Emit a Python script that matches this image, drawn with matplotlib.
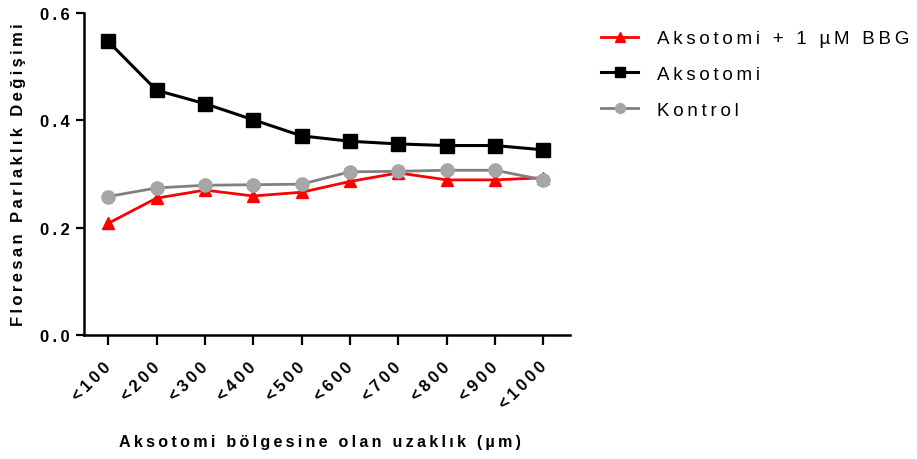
import matplotlib
matplotlib.use("Agg")
import matplotlib.pyplot as plt
import matplotlib.transforms as mtransforms
import numpy as np

plt.rcParams['font.family'] = ['Liberation Sans', 'DejaVu Sans']

# distance bins from the axotomy site
bins = ['<100', '<200', '<300', '<400', '<500', '<600', '<700', '<800', '<900', '<1000']

# mean fluorescence brightness change per bin
aks_bbg = [0.208, 0.255, 0.270, 0.259, 0.266, 0.286, 0.302, 0.289, 0.289, 0.293]
aks = [0.547, 0.456, 0.431, 0.401, 0.371, 0.361, 0.356, 0.353, 0.353, 0.345]
kontrol = [0.258, 0.274, 0.279, 0.280, 0.281, 0.304, 0.305, 0.307, 0.307, 0.289]

y_ticks = [0.0, 0.2, 0.4, 0.6]


def spaced(s):
    # poor man's letter spacing
    return '\u2009'.join(s)


x = np.arange(len(bins))

fig = plt.figure(figsize=(9.17, 4.6), dpi=100)
ax = fig.add_axes([0.0916, 0.2696, 0.530, 0.700])

ax.plot(x, aks_bbg, color='#FF0000', lw=2.0, marker='^', ms=9,
        mec='#FF0000', mfc='#FF0000', label=spaced('Aksotomi + 1 µM BBG'), clip_on=False)
ax.plot(x, aks, color='black', lw=2.2, marker='s', ms=10,
        label=spaced('Aksotomi'), clip_on=False)
ax.plot(x, kontrol, color='#808080', lw=2.0, marker='o', ms=9.5,
        mfc='#A6A6A8', mec='#A6A6A8', label=spaced('Kontrol'), clip_on=False)

ax.set_xlim(-0.5, 9.55)
ax.set_ylim(0, 0.6)

for side in ['top', 'right']:
    ax.spines[side].set_visible(False)
for side in ['left', 'bottom']:
    ax.spines[side].set_linewidth(1.8)

ax.set_yticks(y_ticks)
ax.set_yticklabels([spaced('%.1f' % v) for v in y_ticks], fontsize=12, fontweight='bold')
ax.set_xticks(x)
ax.set_xticklabels([spaced(b) for b in bins], rotation=45, ha='right', rotation_mode='anchor',
                   fontsize=12, fontweight='bold')
ax.tick_params(axis='y', length=6, width=1.6, pad=4)
ax.tick_params(axis='x', length=7, width=1.6, pad=10)

# nudge the slanted labels a bit to the left
shift = mtransforms.ScaledTranslation(-5 / 100, 0, fig.dpi_scale_trans)
for lbl in ax.get_xticklabels():
    lbl.set_transform(lbl.get_transform() + shift)

ax.set_ylabel(spaced('Floresan Parlaklık Değişimi'), fontsize=12, fontweight='bold', labelpad=10)
fig.text(0.349, 0.037, spaced('Aksotomi bölgesine olan uzaklık (µm)'),
         ha='center', va='center', fontsize=11.6, fontweight='bold')

leg = ax.legend(loc='upper left', bbox_to_anchor=(0.647, 0.949),
                bbox_transform=fig.transFigure, frameon=False,
                fontsize=13.5, handlelength=2.0, labelspacing=1.0,
                borderaxespad=0, handletextpad=1.0, markerscale=0.75)

fig.savefig('out.png', dpi=100)
